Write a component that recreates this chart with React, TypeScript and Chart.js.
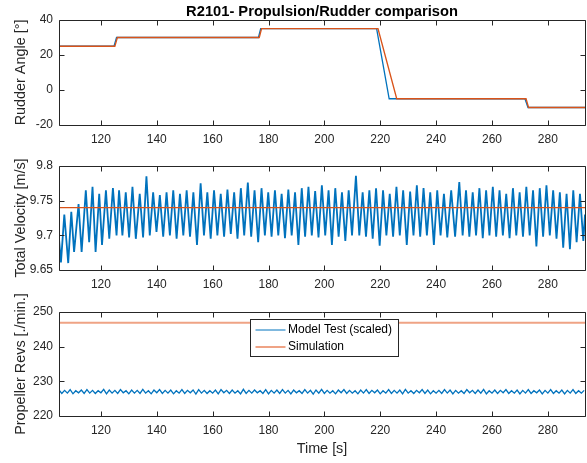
import React, { useEffect, useRef } from 'react';
import { Chart, registerables } from 'chart.js';

Chart.register(...registerables);

const FONT = '"Liberation Sans", Arial, Helvetica, sans-serif';
const INK = '#262626';
const BLUE = '#0072BD';
const ORANGE = '#D95319';
const ORANGE_LIGHT = '#EFA385';

const TITLE = 'R2101- Propulsion/Rudder comparison';
const X_LABEL = 'Time [s]';
const X_MIN = 105;
const X_MAX = 293.3;
const xTicks = [120, 140, 160, 180, 200, 220, 240, 260, 280];

const legendLabels = ['Model Test (scaled)', 'Simulation'];

// ---- Rudder angle ----
const rudderLabel = 'Rudder Angle [°]';
const rudderTicks = [-20, 0, 20, 40];
const rudderTickLabels = ['-20', '0', '20', '40'];
const rudderModelT = [105, 124.7, 125.6, 176.4, 177.2, 218.7, 223.2, 271.8, 272.9, 293.3];
const rudderModelV = [25, 25, 30, 30, 35, 35, -5, -5, -10, -10];
const rudderSimT = [105, 125.0, 125.9, 176.7, 177.5, 219.2, 225.9, 272.2, 273.1, 293.3];
const rudderSimV = [25, 25, 30, 30, 35, 35, -5, -5, -10, -10];

// ---- Total velocity ----
const velLabel = 'Total Velocity [m/s]';
const velTicks = [9.65, 9.7, 9.75, 9.8];
const velTickLabels = ['9.65', '9.7', '9.75', '9.8'];
const velT = [
  105.0, 105.7, 106.9, 108.3, 109.4, 110.4, 112.0, 113.1, 114.6, 115.8,
  117.0, 118.1, 119.4, 120.4, 121.8, 123.0, 124.3, 125.6, 126.5, 127.7,
  128.9, 130.1, 131.3, 132.5, 133.9, 135.1, 136.3, 137.5, 138.7, 139.9,
  141.1, 142.3, 143.5, 144.7, 145.9, 147.1, 148.3, 149.5, 150.7, 151.9,
  153.1, 154.4, 155.7, 156.9, 158.1, 159.3, 160.5, 161.7, 162.9, 164.1,
  165.3, 166.5, 167.7, 168.9, 170.1, 171.3, 172.6, 173.8, 175.0, 176.3,
  177.5, 178.7, 179.9, 181.1, 182.3, 183.5, 184.7, 185.9, 187.1, 188.3,
  189.5, 190.7, 191.9, 193.1, 194.3, 195.5, 196.7, 197.9, 199.1, 200.3,
  201.5, 202.7, 203.9, 205.1, 206.3, 207.5, 208.7, 209.9, 211.3, 212.5,
  213.7, 214.9, 216.1, 217.3, 218.5, 219.8, 221.0, 222.2, 223.4, 224.6,
  225.8, 227.0, 228.2, 229.5, 230.7, 231.9, 233.1, 234.3, 235.5, 236.7,
  237.9, 239.2, 240.4, 241.6, 242.8, 244.0, 245.4, 246.8, 248.3, 249.5,
  250.7, 251.9, 253.1, 254.3, 255.5, 256.7, 257.9, 259.1, 260.3, 261.5,
  262.7, 263.9, 265.1, 266.3, 267.5, 268.7, 269.9, 271.1, 272.3, 273.5,
  274.7, 275.9, 277.1, 278.3, 279.5, 280.7, 281.9, 283.1, 284.3, 285.5,
  286.7, 287.9, 289.1, 290.3, 291.5, 292.7, 293.3,
];
const velV = [
  9.695, 9.661, 9.730, 9.660, 9.734, 9.676, 9.745, 9.676, 9.765, 9.690,
  9.770, 9.676, 9.760, 9.686, 9.765, 9.695, 9.768, 9.700, 9.765, 9.700,
  9.762, 9.697, 9.770, 9.695, 9.760, 9.697, 9.785, 9.700, 9.762, 9.705,
  9.758, 9.698, 9.762, 9.700, 9.765, 9.695, 9.760, 9.700, 9.765, 9.698,
  9.762, 9.686, 9.775, 9.700, 9.762, 9.695, 9.765, 9.700, 9.760, 9.698,
  9.766, 9.702, 9.762, 9.695, 9.768, 9.700, 9.776, 9.698, 9.765, 9.690,
  9.768, 9.700, 9.762, 9.698, 9.765, 9.700, 9.760, 9.696, 9.766, 9.700,
  9.762, 9.686, 9.768, 9.698, 9.770, 9.700, 9.764, 9.697, 9.772, 9.700,
  9.765, 9.686, 9.768, 9.698, 9.762, 9.692, 9.765, 9.700, 9.786, 9.700,
  9.762, 9.698, 9.765, 9.695, 9.768, 9.685, 9.765, 9.700, 9.760, 9.698,
  9.770, 9.700, 9.765, 9.686, 9.763, 9.700, 9.772, 9.698, 9.768, 9.700,
  9.762, 9.686, 9.765, 9.700, 9.760, 9.697, 9.765, 9.698, 9.777, 9.700,
  9.765, 9.698, 9.762, 9.700, 9.768, 9.696, 9.765, 9.700, 9.770, 9.698,
  9.765, 9.700, 9.760, 9.696, 9.768, 9.700, 9.762, 9.698, 9.770, 9.700,
  9.765, 9.684, 9.768, 9.698, 9.772, 9.700, 9.765, 9.695, 9.762, 9.682,
  9.760, 9.680, 9.765, 9.690, 9.760, 9.692, 9.730,
];
const velSimT = [105, 293.3];
const velSimV = [9.74, 9.74];

// ---- Propeller revs ----
const revsLabel = 'Propeller Revs [./min.]';
const revsTicks = [220, 230, 240, 250];
const revsTickLabels = ['220', '230', '240', '250'];
const REVS_START = 105;
const REVS_STEP = 1;
const revsModelV = [
  227.5, 226.5, 227.4, 226.6, 227.6, 226.4, 227.3, 226.7, 227.5, 226.5, 227.6, 226.6, 227.4, 226.5, 227.3, 226.7, 227.7, 226.4, 227.5, 226.6,
  227.4, 226.5, 227.6, 226.7, 227.3, 226.4, 227.5, 226.6, 227.4, 226.5, 227.7, 226.6, 227.3, 226.4, 227.5, 226.7, 227.6, 226.5, 227.4, 226.6,
  227.5, 226.4, 227.3, 226.6, 227.6, 226.5, 227.4, 226.7, 227.5, 226.3, 227.6, 226.6, 227.4, 226.5, 227.3, 226.6, 227.5, 226.4, 227.6, 226.7,
  227.4, 226.5, 227.5, 226.6, 227.3, 226.4, 227.7, 226.5, 227.4, 226.6, 227.5, 226.7, 227.3, 226.5, 227.6, 226.4, 227.4, 226.6, 227.5, 226.5,
  227.6, 226.6, 227.4, 226.4, 227.5, 226.7, 227.3, 226.5, 227.6, 226.6, 227.4, 226.3, 227.5, 226.6, 227.7, 226.5, 227.4, 226.6, 227.3, 226.4,
  227.5, 226.7, 227.6, 226.5, 227.4, 226.6, 227.3, 226.4, 227.5, 226.6, 227.6, 226.5, 227.4, 226.7, 227.5, 226.4, 227.3, 226.6, 227.6, 226.5,
  227.4, 226.6, 227.5, 226.4, 227.7, 226.6, 227.3, 226.5, 227.4, 226.7, 227.6, 226.5, 227.5, 226.4, 227.3, 226.6, 227.4, 226.5, 227.6, 226.6,
  227.5, 226.4, 227.4, 226.6, 227.3, 226.5, 227.6, 226.7, 227.4, 226.5, 227.5, 226.6, 227.7, 226.4, 227.3, 226.6, 227.5, 226.5, 227.4, 226.7,
  227.6, 226.5, 227.3, 226.6, 227.5, 226.4, 227.4, 226.6, 227.6, 226.5, 227.3, 226.7, 227.5, 226.4, 227.4, 226.6, 227.6, 226.5, 227.3, 226.6,
  227.5, 226.4, 227.4, 226.6, 227.6, 226.5, 227.3, 226.6, 227.4,
];
const revsSimT = [105, 293.3];
const revsSimV = [246.9, 246.9];

const toXY = (t: number[], v: number[]) => t.map((x, i) => ({ x, y: v[i] }));

const boxPlugin = {
  id: 'matlabBox',
  afterDatasetsDraw(chart: any) {
    const { ctx, chartArea: a, scales } = chart;
    const L = 5;
    const l = Math.round(a.left) + 0.5;
    const r = Math.round(a.right) + 0.5;
    const t = Math.round(a.top) + 0.5;
    const b = Math.round(a.bottom) + 0.5;
    ctx.save();
    ctx.strokeStyle = INK;
    ctx.lineWidth = 1;
    ctx.beginPath();
    for (const tk of scales.x.ticks) {
      const px = Math.round(scales.x.getPixelForValue(tk.value)) + 0.5;
      ctx.moveTo(px, b); ctx.lineTo(px, b - L);
      ctx.moveTo(px, t); ctx.lineTo(px, t + L);
    }
    for (const tk of scales.y.ticks) {
      const py = Math.round(scales.y.getPixelForValue(tk.value)) + 0.5;
      ctx.moveTo(l, py); ctx.lineTo(l + L, py);
      ctx.moveTo(r, py); ctx.lineTo(r - L, py);
    }
    ctx.rect(l, t, r - l, b - t);
    ctx.stroke();
    ctx.restore();
  },
};

const legendPlugin = {
  id: 'boxLegend',
  afterDraw(chart: any) {
    const { ctx, chartArea: a } = chart;
    const w = 148;
    const h = 37;
    const left = Math.round((a.left + a.right) / 2 - w / 2 + 2) + 0.5;
    const top = Math.round(a.top + 7) + 0.5;
    ctx.save();
    ctx.fillStyle = '#ffffff';
    ctx.fillRect(left, top, w, h);
    ctx.strokeStyle = INK;
    ctx.lineWidth = 1;
    ctx.strokeRect(left, top, w, h);
    const rows = [top + 10.5, top + 27];
    const cols = [BLUE, ORANGE_LIGHT];
    const widths = [1, 2];
    ctx.font = `12px ${FONT}`;
    ctx.textBaseline = 'middle';
    ctx.textAlign = 'left';
    legendLabels.forEach((label, i) => {
      ctx.strokeStyle = cols[i];
      ctx.lineWidth = widths[i];
      ctx.beginPath();
      ctx.moveTo(left + 5, Math.round(rows[i]));
      ctx.lineTo(left + 35, Math.round(rows[i]));
      ctx.stroke();
      ctx.fillStyle = '#000000';
      ctx.fillText(label, left + 37.5, rows[i]);
    });
    ctx.restore();
  },
};

type Cfg = {
  datasets: any[];
  yTicks: number[];
  yTickLabels: string[];
  yTitle: string;
  padTop: number;
  xHeight: number;
  title?: string;
  xTitle?: string;
  extraPlugins?: any[];
};

function buildConfig(p: Cfg): any {
  return {
    type: 'line',
    data: { datasets: p.datasets },
    options: {
      animation: false,
      responsive: false,
      maintainAspectRatio: false,
      events: [],
      layout: { padding: { top: p.padTop, right: 2, bottom: 0, left: 0 } },
      elements: { point: { radius: 0 }, line: { tension: 0 } },
      plugins: {
        legend: { display: false },
        tooltip: { enabled: false },
        title: p.title
          ? {
              display: true,
              text: p.title,
              fullSize: false,
              color: '#000000',
              font: { family: FONT, size: 14.7, weight: 'bold', lineHeight: 1.1 },
              padding: { top: 3.6, bottom: 0.2 },
            }
          : { display: false },
      },
      scales: {
        x: {
          type: 'linear',
          min: X_MIN,
          max: X_MAX,
          afterBuildTicks: (s: any) => {
            s.ticks = xTicks.map((v) => ({ value: v }));
          },
          afterFit: (s: any) => {
            s.height = p.xHeight;
          },
          grid: { display: false, drawTicks: false },
          border: { display: false },
          ticks: {
            color: INK,
            font: { family: FONT, size: 12 },
            padding: 7,
            maxRotation: 0,
            autoSkip: false,
            callback: (v: any) => String(v),
          },
          title: p.xTitle
            ? {
                display: true,
                text: p.xTitle,
                color: INK,
                font: { family: FONT, size: 14.4, lineHeight: 1.2 },
                padding: { top: 0, bottom: 5.5 },
              }
            : { display: false },
        },
        y: {
          type: 'linear',
          min: p.yTicks[0],
          max: p.yTicks[p.yTicks.length - 1],
          afterBuildTicks: (s: any) => {
            s.ticks = p.yTicks.map((v) => ({ value: v }));
          },
          afterFit: (s: any) => {
            s.width = 59;
          },
          grid: { display: false, drawTicks: false },
          border: { display: false },
          ticks: {
            color: INK,
            font: { family: FONT, size: 12 },
            padding: 6,
            autoSkip: false,
            callback: (_v: any, i: number) => p.yTickLabels[i],
          },
          title: {
            display: true,
            text: p.yTitle,
            color: INK,
            font: { family: FONT, size: 14.4, lineHeight: 1.2 },
            padding: { top: 12.5, bottom: 0 },
          },
        },
      },
    },
    plugins: [boxPlugin, ...(p.extraPlugins || [])],
  };
}

function lineDs(label: string, data: any[], color: string, width: number, order: number) {
  return {
    label,
    data,
    borderColor: color,
    backgroundColor: color,
    borderWidth: width,
    pointRadius: 0,
    fill: false,
    tension: 0,
    order,
  };
}

const W = 587;

export default function App() {
  const c1 = useRef<HTMLCanvasElement>(null);
  const c2 = useRef<HTMLCanvasElement>(null);
  const c3 = useRef<HTMLCanvasElement>(null);

  useEffect(() => {
    const charts: Chart[] = [];
    charts.push(
      new Chart(
        c1.current as HTMLCanvasElement,
        buildConfig({
          datasets: [
            lineDs(legendLabels[0], toXY(rudderModelT, rudderModelV), BLUE, 1.3, 2),
            lineDs(legendLabels[1], toXY(rudderSimT, rudderSimV), ORANGE, 1.3, 1),
          ],
          yTicks: rudderTicks,
          yTickLabels: rudderTickLabels,
          yTitle: rudderLabel,
          padTop: 0,
          xHeight: 20,
          title: TITLE,
        })
      )
    );
    charts.push(
      new Chart(
        c2.current as HTMLCanvasElement,
        buildConfig({
          datasets: [
            lineDs(legendLabels[0], toXY(velT, velV), BLUE, 1.8, 2),
            lineDs(legendLabels[1], toXY(velSimT, velSimV), ORANGE, 1.2, 1),
          ],
          yTicks: velTicks,
          yTickLabels: velTickLabels,
          yTitle: velLabel,
          padTop: 21,
          xHeight: 20,
        })
      )
    );
    const revsModel = revsModelV.map((v, i) => ({ x: REVS_START + i * REVS_STEP, y: v }));
    charts.push(
      new Chart(
        c3.current as HTMLCanvasElement,
        buildConfig({
          datasets: [
            lineDs(legendLabels[0], revsModel, BLUE, 1.3, 2),
            lineDs(legendLabels[1], toXY(revsSimT, revsSimV), ORANGE_LIGHT, 2, 1),
          ],
          yTicks: revsTicks,
          yTickLabels: revsTickLabels,
          yTitle: revsLabel,
          padTop: 22,
          xHeight: 47,
          xTitle: X_LABEL,
          extraPlugins: [legendPlugin],
        })
      )
    );
    return () => charts.forEach((c) => c.destroy());
  }, []);

  const cs: React.CSSProperties = { position: 'absolute', left: 0, display: 'block' };
  return (
    <div style={{ position: 'fixed', left: 0, top: 0, width: W, height: 463, background: '#ffffff', overflow: 'hidden' }}>
      <canvas ref={c1} width={W} height={145} style={{ ...cs, top: 0, width: W, height: 145 }} />
      <canvas ref={c2} width={W} height={145} style={{ ...cs, top: 145, width: W, height: 145 }} />
      <canvas ref={c3} width={W} height={173} style={{ ...cs, top: 290, width: W, height: 173 }} />
    </div>
  );
}
